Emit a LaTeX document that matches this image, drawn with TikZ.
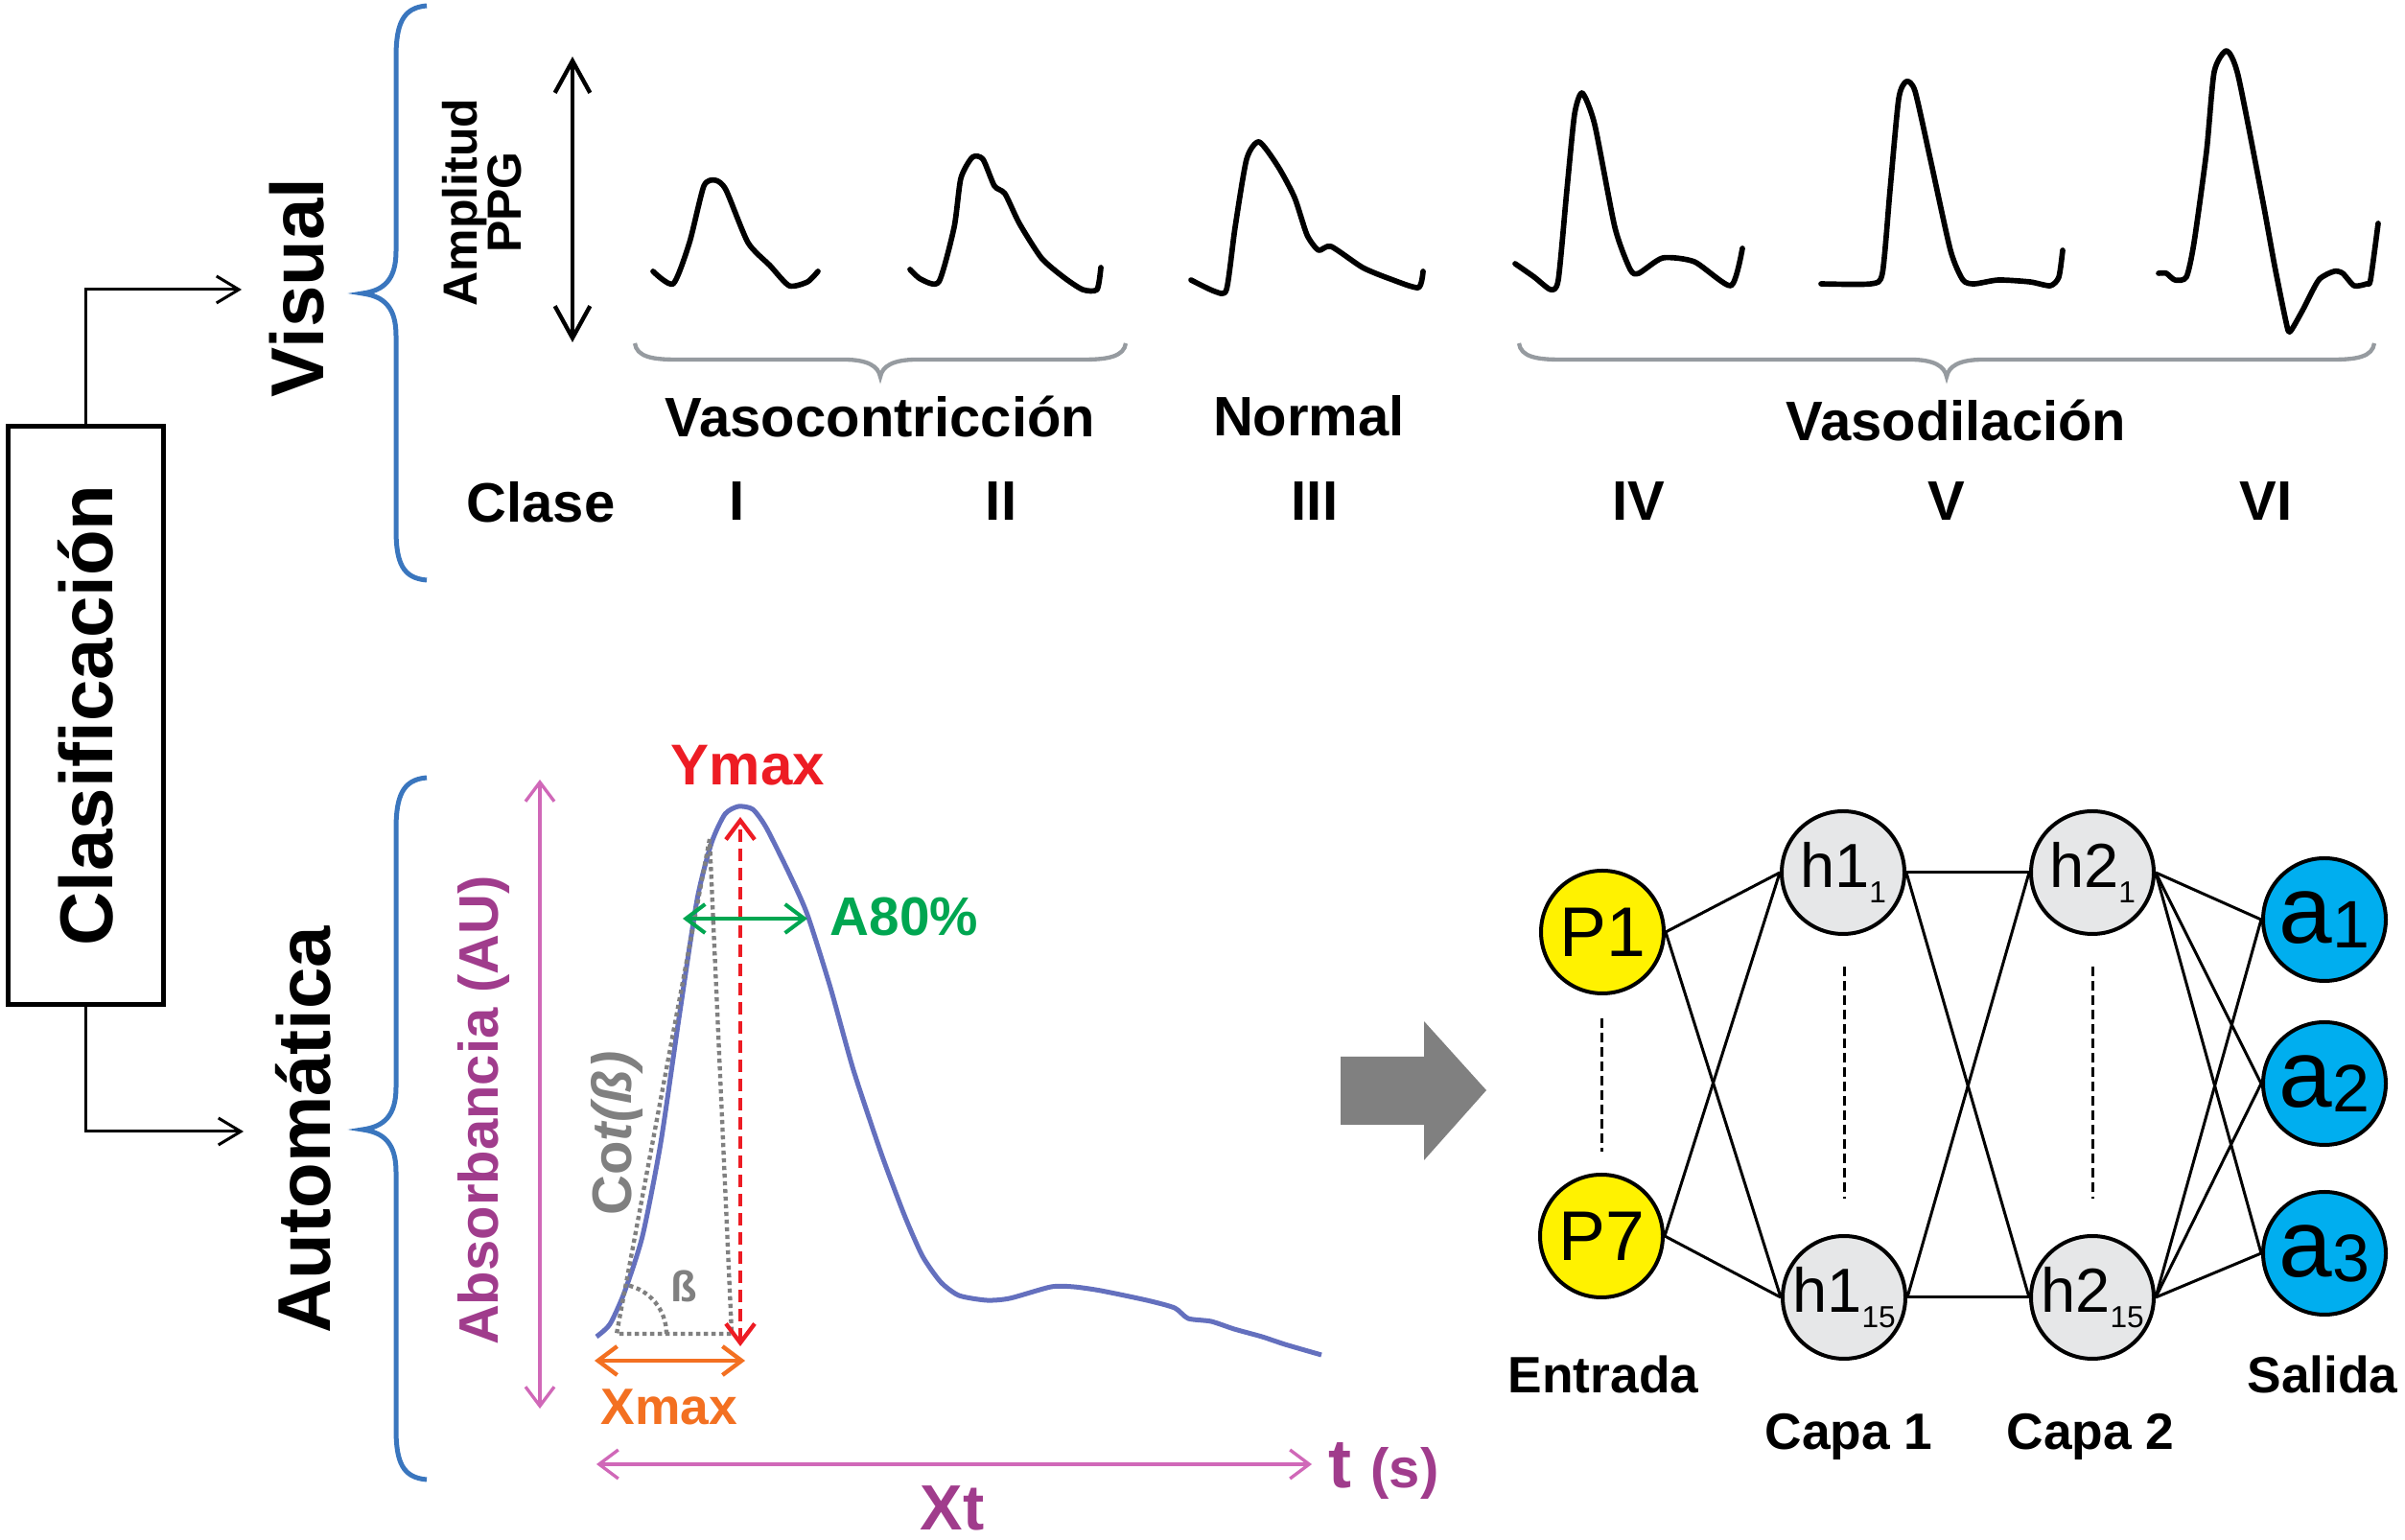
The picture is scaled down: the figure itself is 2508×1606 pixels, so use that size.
\documentclass[tikz,border=0pt]{standalone}
\usepackage{fontspec}
\setmainfont{Liberation Sans}
\usetikzlibrary{arrows.meta,positioning}

\definecolor{bracebl}{RGB}{58,118,190}
\definecolor{wavebl}{RGB}{100,112,190}
\definecolor{absmag}{RGB}{160,60,140}
\definecolor{arrmag}{RGB}{208,104,184}
\definecolor{ymaxred}{RGB}{237,28,36}
\definecolor{agreen}{RGB}{0,166,81}
\definecolor{xorange}{RGB}{243,112,33}
\definecolor{cotgray}{RGB}{128,128,128}
\definecolor{bracegray}{RGB}{150,155,160}
\definecolor{nodeyel}{RGB}{255,242,0}
\definecolor{nodegray}{RGB}{230,231,232}
\definecolor{nodecyan}{RGB}{0,174,239}

\begin{document}
\begin{tikzpicture}[x=0.3pt,y=0.3pt,yscale=-1,
    title/.style={font=\fontsize{23.4}{26}\selectfont\bfseries, rotate=90, inner sep=0pt},
    catlabel/.style={font=\fontsize{17.4}{20}\selectfont\bfseries, anchor=base, inner sep=0pt},
    netlabel/.style={font=\fontsize{16}{19}\selectfont\bfseries, anchor=base, inner sep=0pt},
    neuron/.style={circle, draw=black, line width=1.2pt, minimum size=38.4pt, inner sep=0pt},
    wave/.style={line width=1.7pt, line join=round, line cap=round},
    vbrace/.style={color=bracebl, line width=1.5pt},
    gbrace/.style={color=bracegray, line width=1.3pt},
    barbs/.style={arrows={Straight Barb[length=6pt,width=9pt]-Straight Barb[length=6pt,width=9pt]}},
    link/.style={line width=0.9pt},
    dots/.style={line width=1.3pt, dash pattern=on 1.3pt off 1.1pt}
  ]
  \useasboundingbox (0,0) rectangle (2508,1606);

  % Clasificacion box and its two branches
  \node [draw, line width=1.5pt, rotate=90, minimum width=180.9pt, minimum height=48.6pt,
         font=\fontsize{23.4}{26}\selectfont\bfseries] (clasif) at (89,746) {Clasificación};
  \coordinate (visin) at (252,302);
  \coordinate (autin) at (254,1180);
  \draw [line width=0.9pt, -{Straight Barb[length=7pt,width=8.4pt]}] (clasif.east) |- (visin);
  \draw [line width=0.9pt, -{Straight Barb[length=7pt,width=8.4pt]}] (clasif.west) |- (autin);

  % Text Node
  \node [title] (visual) at (310,300) {Visual};
  % Text Node
  \node [title] (automat) at (316,1178) {Automática};

  % Blue braces
  \draw [vbrace] (445,6) .. controls (420,8) and (413,25) .. (413,60) -- (413,262)
    .. controls (413,292) and (400,303) .. (378,306) .. controls (400,309) and (413,320) .. (413,350)
    -- (413,552) .. controls (413,587) and (420,603) .. (445,605);
  \draw [vbrace] (445,811) .. controls (420,813) and (413,830) .. (413,865) -- (413,1134)
    .. controls (413,1164) and (400,1175) .. (378,1178) .. controls (400,1181) and (413,1192) .. (413,1222)
    -- (413,1490) .. controls (413,1525) and (420,1541) .. (445,1543);

  % ---------------- Visual panel ----------------
  \node [rotate=90, align=center, inner sep=0pt,
         font=\fontsize{15}{13.8}\selectfont\bfseries] (amplab) at (503,211) {Amplitud\\PPG};
  \coordinate (amptop) at (597,59);
  \coordinate (ampbot) at (597,357);
  \draw [line width=1.3pt, arrows={Straight Barb[length=10pt,width=11pt]-Straight Barb[length=10pt,width=11pt]}] (ampbot) -- (amptop);

  % waves
  \draw [wave] plot [smooth, tension=0.4] coordinates {(681,283) (702,296) (719,253) (734,194) (746,188) (757,198) (780,253) (803,277) (823,298) (842,294) (853,283)};
  \draw [wave] plot [smooth, tension=0.4] coordinates {(949,281) (960,291) (979,294) (995,237) (1002,186) (1014,164) (1025,166) (1037,194) (1048,202) (1063,233) (1086,269) (1109,289) (1129,302) (1144,302) (1148,279)};
  \draw [wave] plot [smooth, tension=0.4] coordinates {(1242,292) (1267,304) (1279,302) (1288,237) (1300,166) (1313,148) (1333,174) (1350,206) (1363,245) (1375,261) (1388,257) (1421,279) (1450,291) (1479,300) (1484,283)};
  \draw [wave] plot [smooth, tension=0.4] coordinates {(1580,275) (1600,289) (1617,302) (1625,292) (1634,198) (1642,119) (1650,97) (1663,130) (1684,237) (1700,281) (1709,285) (1734,269) (1767,273) (1805,298) (1817,259)};
  \draw [wave] plot [smooth, tension=0.4] coordinates {(1899,296) (1951,296) (1963,285) (1971,198) (1980,103) (1988,85) (1997,95) (2013,166) (2034,261) (2047,292) (2059,296) (2084,292) (2117,294) (2138,298) (2147,289) (2151,261)};
  \draw [wave] plot [smooth, tension=0.4] coordinates {(2251,285) (2259,285) (2268,292) (2280,289) (2288,253) (2301,158) (2309,75) (2322,53) (2334,79) (2359,206) (2372,277) (2384,336) (2388,346) (2401,324) (2418,292) (2434,283) (2443,285) (2455,298) (2468,296) (2472,292) (2480,233)};

  % gray braces
  \draw [gbrace] (662,358) .. controls (664,372) and (680,375) .. (705,375) -- (880,375)
    .. controls (905,375) and (916,382) .. (918,393) .. controls (920,382) and (931,375) .. (956,375)
    -- (1130,375) .. controls (1155,375) and (1172,372) .. (1174,358);
  \draw [gbrace] (1584,358) .. controls (1586,372) and (1602,375) .. (1627,375) -- (1992,375)
    .. controls (2017,375) and (2028,382) .. (2030,393) .. controls (2032,382) and (2043,375) .. (2068,375)
    -- (2433,375) .. controls (2458,375) and (2474,372) .. (2476,358);

  % Text Node
  \node [catlabel] (vasoc) at (918,456) {Vasocontricción};
  \node [catlabel] (normal) at (1365,455) {Normal};
  \node [catlabel] (vasod) at (2040,460) {Vasodilación};
  % Text Node
  \node [catlabel] (clase) at (564,545) {Clase};
  \node [catlabel] (c1) at (769,543) {I};
  \node [catlabel] (c2) at (1044,543) {II};
  \node [catlabel] (c3) at (1371,543) {III};
  \node [catlabel] (c4) at (1709,543) {IV};
  \node [catlabel] (c5) at (2030,543) {V};
  \node [catlabel] (c6) at (2363,543) {VI};

  % ---------------- Automatic panel ----------------
  \node [rotate=90, inner sep=0pt, text=absmag,
         font=\fontsize{17.4}{20}\selectfont\bfseries] (absorb) at (505,1158) {Absorbancia (AU)};
  \coordinate (abstop) at (563,813);
  \coordinate (absbot) at (563,1469);
  \draw [barbs, color=arrmag, line width=1pt] (absbot) -- (abstop);

  % pulse
  \draw [color=wavebl, line width=1.5pt, line join=round] plot [smooth, tension=0.4] coordinates {(622,1394) (636,1381) (651,1348) (670,1289) (689,1192) (708,1062) (727,938) (742,879) (756,849) (770,841) (785,844) (799,863) (823,911) (842,954) (866,1030) (890,1116) (919,1203) (943,1267) (962,1310) (981,1337) (1000,1351) (1029,1356) (1053,1354) (1096,1342) (1120,1342) (1148,1346) (1196,1356) (1225,1364) (1239,1375) (1263,1378) (1287,1386) (1316,1394) (1340,1402) (1378,1413)};

  % slope triangle
  \coordinate (tria) at (643,1391);
  \coordinate (trib) at (763,1391);
  \coordinate (tric) at (740,875);
  \draw [dots, color=cotgray] (tric) -- (tria) -- (trib) -- (tric);
  \draw [dots, color=cotgray] (695,1391) arc [start angle=0, end angle=-79, radius=52];
  \node [inner sep=0pt, text=cotgray, font=\fontsize{13.5}{15}\selectfont\bfseries] (betal) at (713,1341) {ß};
  \node [rotate=90, inner sep=0pt, text=cotgray,
         font=\fontsize{17.4}{20}\selectfont\bfseries] (cotb) at (643,1182) {Co\textit{t(ß)}};

  % Ymax
  \coordinate (ymtop) at (772,852);
  \coordinate (ymbot) at (772,1404);
  \draw [barbs, color=ymaxred, line width=1.3pt, dash pattern=on 4pt off 2pt] (ymbot) -- (ymtop);
  \node [anchor=base, inner sep=0pt, text=ymaxred, font=\fontsize{18}{20}\selectfont\bfseries] (ymax) at (780,819) {Ymax};

  % A80%
  \coordinate (aleft) at (712,958);
  \coordinate (aright) at (842,958);
  \draw [barbs, color=agreen, line width=1.2pt] (aleft) -- (aright);
  \node [anchor=base, inner sep=0pt, text=agreen, font=\fontsize{17}{20}\selectfont\bfseries] (a80) at (943,976) {A80\%};

  % Xmax
  \coordinate (xleft) at (620,1419);
  \coordinate (xright) at (777,1419);
  \draw [barbs, color=xorange, line width=1.3pt] (xleft) -- (xright);
  \node [anchor=base, inner sep=0pt, text=xorange, font=\fontsize{16}{20}\selectfont\bfseries] (xmax) at (698,1486) {Xmax};

  % Xt
  \coordinate (tleft) at (622,1527);
  \coordinate (tright) at (1368,1527);
  \draw [barbs, color=arrmag, line width=1pt] (tleft) -- (tright);
  \node [anchor=base, inner sep=0pt, text=absmag, font=\fontsize{20}{22}\selectfont\bfseries] (xt) at (993,1596) {Xt};
  \node [anchor=base west, inner sep=0pt, text=absmag, font=\fontsize{21.6}{24}\selectfont\bfseries] (tsec) at (1385,1552) {t {\fontsize{17.4}{20}\selectfont (s)}};

  % big gray arrow
  \fill [cotgray] (1398,1102) -- (1485,1102) -- (1485,1065) -- (1550,1137) -- (1485,1210) -- (1485,1173) -- (1398,1173) -- cycle;

  % ---------------- Network ----------------
  \node [neuron, fill=nodeyel, font=\fontsize{22}{22}\selectfont] (p1) at (1671,972) {P1};
  \node [neuron, fill=nodeyel, font=\fontsize{22}{22}\selectfont] (p7) at (1670,1289) {P7};
  \node [neuron, fill=nodegray, font=\fontsize{19.5}{20}\selectfont] (h11) at (1922,910) {h1\raisebox{-5pt}{\fontsize{9.5}{10}\selectfont 1}};
  \node [neuron, fill=nodegray, font=\fontsize{19.5}{20}\selectfont] (h115) at (1923,1353) {h1\raisebox{-5pt}{\fontsize{9.5}{10}\selectfont 15}};
  \node [neuron, fill=nodegray, font=\fontsize{19.5}{20}\selectfont] (h21) at (2182,910) {h2\raisebox{-5pt}{\fontsize{9.5}{10}\selectfont 1}};
  \node [neuron, fill=nodegray, font=\fontsize{19.5}{20}\selectfont] (h215) at (2182,1353) {h2\raisebox{-5pt}{\fontsize{9.5}{10}\selectfont 15}};
  \node [neuron, fill=nodecyan] (a1) at (2424,959) {{\fontsize{30}{30}\selectfont a}\raisebox{-1.5pt}{\fontsize{21}{21}\selectfont 1}};
  \node [neuron, fill=nodecyan] (a2) at (2424,1130) {{\fontsize{30}{30}\selectfont a}\raisebox{-1.5pt}{\fontsize{21}{21}\selectfont 2}};
  \node [neuron, fill=nodecyan] (a3) at (2424,1307) {{\fontsize{30}{30}\selectfont a}\raisebox{-1.5pt}{\fontsize{21}{21}\selectfont 3}};

  % links
  \foreach \i in {p1,p7} \foreach \j in {h11,h115} \draw [link] (\i.east) -- (\j.west);
  \foreach \i in {h11,h115} \foreach \j in {h21,h215} \draw [link] (\i.east) -- (\j.west);
  \foreach \i in {h21,h215} \foreach \j in {a1,a2,a3} \draw [link] (\i.east) -- (\j.west);

  % ellipsis
  \draw [line width=0.9pt, dash pattern=on 3pt off 1.5pt] (1670,1062) -- (1670,1201);
  \draw [line width=0.9pt, dash pattern=on 3pt off 1.5pt] (1923,1008) -- (1923,1250);
  \draw [line width=0.9pt, dash pattern=on 3pt off 1.5pt] (2182,1008) -- (2182,1250);

  % Text Node
  \node [netlabel] (entrada) at (1672,1453) {Entrada};
  \node [netlabel] (capa1) at (1928,1512) {Capa 1};
  \node [netlabel] (capa2) at (2180,1512) {Capa 2};
  \node [netlabel] (salida) at (2422,1453) {Salida};
\end{tikzpicture}
\end{document}
